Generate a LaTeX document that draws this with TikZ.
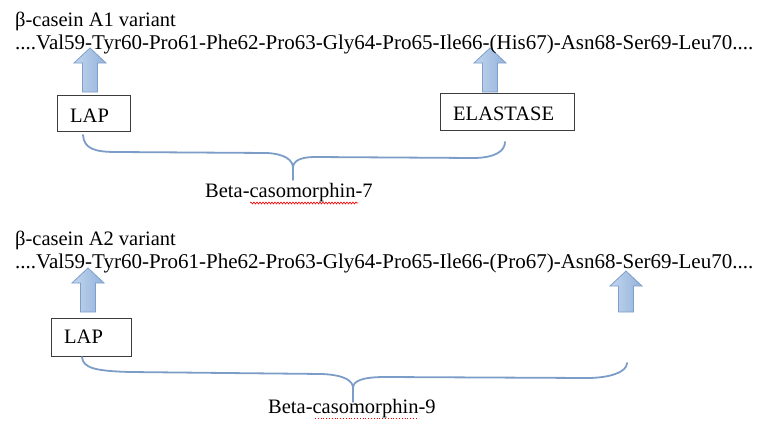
\documentclass[tikz,border=0pt]{standalone}
\usepackage{fontspec}
\setmainfont{Liberation Serif}
\usetikzlibrary{decorations.pathmorphing}
\definecolor{arrowfillL}{HTML}{C3D6EF}
\definecolor{arrowfillR}{HTML}{92B2DA}
\definecolor{arrowedge}{HTML}{7E9FC9}
\definecolor{bracecol}{HTML}{7C9DC7}
\definecolor{boxedge}{HTML}{3C3C3C}
\tikzset{
  txt/.style={inner sep=0pt, anchor=base west, font=\fontsize{20.5}{24}\selectfont},
  seqtxt/.style={txt, font=\fontsize{21}{24}\selectfont},
  enzbox/.style={draw=boxedge, line width=1.2pt, anchor=north west, inner sep=0pt},
  bracestyle/.style={draw=bracecol, line width=1.8pt, line cap=round, line join=round},
  blockarrow/.style={draw=arrowedge, line width=0.8pt, left color=arrowfillL, right color=arrowfillR},
  uparrow/.pic={
    \path[blockarrow] (-7.5,0) -- (-7.5,-#1+15) -- (-16,-#1+15) -- (0,-#1) -- (16,-#1+15) -- (7.5,-#1+15) -- (7.5,0) -- cycle;
  }
}
\begin{document}
\begin{tikzpicture}[x=1pt,y=-1pt]
\useasboundingbox (0,0) rectangle (762,420);

% ---- block arrows (behind the text) ----
\pic at (90,92) {uparrow=44};
\pic at (490,92) {uparrow=44};
\pic at (88,312) {uparrow=44};
\pic at (626,312) {uparrow=41};

% ---- A1 variant ----
\node[txt] (t1) at (15,27) {β-casein A1 variant};
\node[seqtxt] (s1) at (15,49.3) {....Val59-Tyr60-Pro61-Phe62-Pro63-Gly64-Pro65-Ile66-(His67)-Asn68-Ser69-Leu70....};

\node[enzbox, minimum width=73pt, minimum height=36pt] (lap1) at (57,95) {};
\node[txt] (lap1t) at (70,122.7) {LAP};
\node[enzbox, minimum width=134pt, minimum height=37pt] (ela) at (440,93) {};
\node[txt] (elat) at (453,120.5) {ELASTASE};

\coordinate (b1l) at (83,135);
\coordinate (b1m) at (293,168);
\coordinate (b1s) at (293,180);
\coordinate (b1r) at (505,142);
\path[bracestyle] (b1l) .. controls (84,149) and (95,152) .. (117,152) -- (267,153)
   .. controls (285,154) and (293,160) .. (b1m) -- (b1s);
\path[bracestyle] (b1m) .. controls (293,161) and (300,157) .. (315,157) -- (473,158)
   .. controls (495,158) and (505,151) .. (b1r);

\node[txt] (bcm7) at (205,197) {Beta-casomorphin-7};
\draw[red, line width=0.6pt, decorate, decoration={snake, amplitude=1pt, segment length=3pt}] (250,203) -- (358,203);

% ---- A2 variant ----
\node[txt] (t2) at (15,245) {β-casein A2 variant};
\node[seqtxt] (s2) at (15,268) {....Val59-Tyr60-Pro61-Phe62-Pro63-Gly64-Pro65-Ile66-(Pro67)-Asn68-Ser69-Leu70....};

\node[enzbox, minimum width=80pt, minimum height=38pt] (lap2) at (51,318) {};
\node[txt] (lap2t) at (64,343.5) {LAP};

\coordinate (b2l) at (82,357);
\coordinate (b2m) at (353,388);
\coordinate (b2s) at (353,402);
\coordinate (b2r) at (627,363);
\path[bracestyle] (b2l) .. controls (83,368) and (95,371) .. (130,372) -- (322,374)
   .. controls (345,375) and (353,381) .. (b2m) -- (b2s);
\path[bracestyle] (b2m) .. controls (353,381) and (362,377) .. (385,377) -- (587,378)
   .. controls (610,378) and (627,372) .. (b2r);

\node[txt] (bcm9) at (268,413) {Beta-casomorphin-9};
\draw[red, line width=0.8pt, dotted] (315,418.5) -- (417,418.5);
\end{tikzpicture}
\end{document}
